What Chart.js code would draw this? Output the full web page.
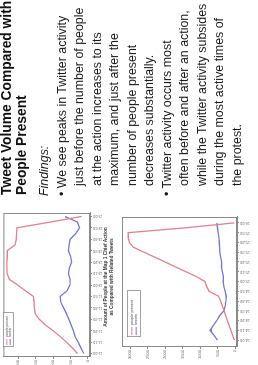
<!DOCTYPE html>
<html>
<head>
<meta charset="utf-8">
<script src="https://cdn.jsdelivr.net/npm/chart.js@4.4.1/dist/chart.umd.min.js"></script>
<style>
html, body { margin: 0; padding: 0; background: #fff; width: 258px; height: 365px; overflow: hidden; }
/* la diapositiva completa va girada 90 grados, como en la foto */
#slide {
    position: absolute; left: 0; top: 0; width: 365px; height: 258px;
    transform-origin: 0 0; transform: translateY(365px) rotate(-90deg);
    font-family: "Liberation Sans", Arial, sans-serif; color: #1a1a1a;
    overflow: hidden; background: #fff; filter: blur(0.55px);
}
#titulo { position: absolute; left: 170px; top: -1px; font-weight: bold; font-size: 13.8px; line-height: 15px; white-space: nowrap; color: #111; }
#texto { position: absolute; left: 169px; top: 36px; font-size: 12.4px; line-height: 17.5px; white-space: nowrap; }
#texto .sangria { padding-left: 10px; }
#c1 { position: absolute; left: 0; top: 0; }
#c2 { position: absolute; left: 0; top: 118px; }
#cap1 { position: absolute; left: 24px; width: 128px; top: 103px; font-size: 4.8px; font-weight: bold; text-align: center; line-height: 5.5px; color: #333; }
</style>
</head>
<body>
<div id="slide">
    <div id="titulo">Tweet Volume Compared with<br>People Present</div>
    <div id="texto">
        <div><i>Findings:</i></div>
        <div>• We see peaks in Twitter activity</div>
        <div class="sangria">just before the number of people</div>
        <div class="sangria">at the action increases to its</div>
        <div class="sangria">maximum, and just after the</div>
        <div class="sangria">number of people present</div>
        <div class="sangria">decreases substantially.</div>
        <div>• Twitter activity occurs most</div>
        <div class="sangria">often before and after an action,</div>
        <div class="sangria">while the Twitter activity subsides</div>
        <div class="sangria">during the most active times of</div>
        <div class="sangria">the protest.</div>
    </div>
    <canvas id="c1" width="160" height="102"></canvas>
    <div id="cap1">Amount of People at the Map 1 Chief Action<br>as Compared with Related Tweets</div>
    <canvas id="c2" width="160" height="140"></canvas>
</div>

<script>
// datos leidos de la foto (valores aproximados)
const horas1 = ['11:00','11:05','11:10','11:15','11:20','11:25','11:30','11:35','11:40','11:45','11:50','11:55','12:00',
                '12:05','12:10','12:15','12:20','12:25','12:30','12:35','12:40','12:45','12:50','12:55','13:00'];
const personas1 = [30, 45, 62, 80, 100, 122, 140, 152, 154, 155, 157, 180, 202, 226, 232, 233, 233, 232, 232, 210, 206, 205, 204, 110, 18];
const tweets1 = [12, 20, 28, 37, 42, 48, 55, 62, 70, 78, 80, 60, 52, 51, 56, 53, 47, 50, 56, 54, 51, 35, 24, 30, 66];
const ticksY1 = [0, 50, 100, 150, 200];

const horas2 = ['14:00','14:05','14:10','14:15','14:20','14:25','14:30','14:35','14:40','14:45','14:50','14:55','15:00',
                '15:05','15:10','15:15','15:20','15:25','15:30','15:35','15:40','15:45','15:50','15:55','16:00'];
const personas2 = [20, 70, 120, 170, 220, 270, 310, 360, 410, 470, 740, 810, 860, 1100, 1400, 1700, 2000, 2300, 2600, 2900, 3020, 3050, 3050, 1400, 20];
const tweets2 = [500, 600, 710, 620, 520, 440, 320, 280, 260, 250, 280, 320, 340, 330, 360, 390, 380, 410, 430, 440, 450, 460, 480, 500, 520];
const ticksY2 = [0, 500, 1000, 1500, 2000, 2500, 3000];

const nombres = ['people present', 'tweets'];

const ROJO = 'rgb(228, 128, 146)';
const AZUL = 'rgb(118, 118, 212)';
const GRIS = '#8a8a8a';

// marco tipo R alrededor del area del grafico
const marco = {
    id: 'marco',
    afterDraw(chart) {
        const a = chart.chartArea, ctx = chart.ctx;
        ctx.save();
        ctx.strokeStyle = GRIS;
        ctx.lineWidth = 1;
        ctx.strokeRect(a.left + 0.5, a.top + 0.5, a.right - a.left - 1, a.bottom - a.top - 1);
        ctx.restore();
    }
};

// leyenda con caja, dentro del area
const leyendaCaja = {
    id: 'leyendaCaja',
    afterDraw(chart, args, opts) {
        const ctx = chart.ctx;
        const x = opts.x, y = opts.y, w = opts.w, h = opts.h;
        ctx.save();
        ctx.fillStyle = '#fff';
        ctx.fillRect(x, y, w, h);
        ctx.strokeStyle = GRIS;
        ctx.lineWidth = 0.8;
        ctx.strokeRect(x + 0.5, y + 0.5, w, h);
        const colores = [ROJO, AZUL];
        ctx.font = opts.size + 'px "Liberation Sans", Arial, sans-serif';
        ctx.textBaseline = 'middle';
        nombres.forEach((n, i) => {
            const yy = y + h * (i + 1) / 3 + 0.5;
            ctx.strokeStyle = colores[i];
            ctx.lineWidth = 1;
            ctx.beginPath();
            ctx.moveTo(x + 2, yy);
            ctx.lineTo(x + 2 + opts.largo, yy);
            ctx.stroke();
            ctx.fillStyle = '#555';
            ctx.fillText(n, x + 4 + opts.largo, yy);
        });
        ctx.restore();
    }
};

function crearGrafico(id, horas, personas, tweets, ticksY, cfg) {
    const ctx = document.getElementById(id).getContext('2d');
    return new Chart(ctx, {
        type: 'line',
        data: {
            datasets: [
                { label: nombres[0], data: personas.map((v, i) => ({ x: i, y: v })), borderColor: ROJO, borderWidth: 1.3, pointRadius: 0, tension: 0 },
                { label: nombres[1], data: tweets.map((v, i) => ({ x: i, y: v })), borderColor: AZUL, borderWidth: 1.3, pointRadius: 0, tension: 0 }
            ]
        },
        options: {
            responsive: false,
            animation: false,
            devicePixelRatio: 1,
            layout: { padding: { top: cfg.arriba, right: cfg.derecha, left: 0, bottom: 0 } },
            plugins: {
                legend: { display: false },
                tooltip: { enabled: false },
                leyendaCaja: cfg.leyenda
            },
            scales: {
                x: {
                    type: 'linear',
                    min: cfg.xMin, max: cfg.xMax,
                    afterFit: s => { s.height = cfg.altoX; },
                    afterBuildTicks: s => { s.ticks = horas.map((h, i) => i).filter(i => i % 2 === 0).map(i => ({ value: i })); },
                    grid: { drawOnChartArea: false, color: GRIS, tickLength: 2 },
                    border: { color: GRIS },
                    ticks: {
                        autoSkip: false, minRotation: 90, maxRotation: 90, padding: 1,
                        font: { size: 4 }, color: '#666',
                        callback: v => horas[v]
                    }
                },
                y: {
                    min: cfg.yMin, max: cfg.yMax,
                    afterFit: s => { s.width = cfg.anchoY; },
                    afterBuildTicks: s => { s.ticks = ticksY.map(v => ({ value: v })); },
                    grid: { drawOnChartArea: false, color: GRIS, tickLength: 2 },
                    border: { color: GRIS },
                    ticks: { padding: 1, font: { size: 4 }, color: '#666', callback: v => String(v) }
                }
            }
        },
        plugins: [marco, leyendaCaja]
    });
}

document.addEventListener('DOMContentLoaded', () => {
    crearGrafico('c1', horas1, personas1, tweets1, ticksY1, {
        arriba: 3, derecha: 8, altoX: 12, anchoY: 8,
        xMin: -0.6, xMax: 24.6, yMin: -6, yMax: 243,
        leyenda: { x: 18, y: 3, w: 34, h: 10, largo: 6, size: 3.2 }
    });
    crearGrafico('c2', horas2, personas2, tweets2, ticksY2, {
        arriba: 4, derecha: 12, altoX: 21, anchoY: 18,
        xMin: -1.4, xMax: 25.2, yMin: -57, yMax: 3229,
        leyenda: { x: 28, y: 9, w: 46, h: 13, largo: 8, size: 3.8 }
    });
});
</script>
</body>
</html>
